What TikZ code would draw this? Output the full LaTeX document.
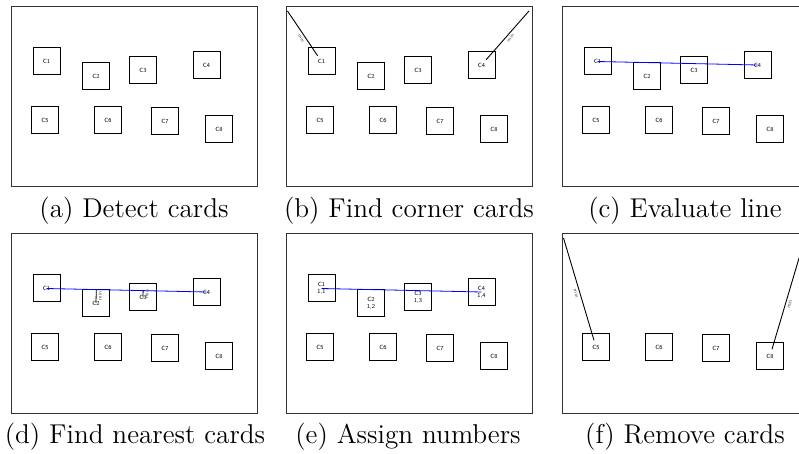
\documentclass[tikz,border=0pt]{standalone}
\usetikzlibrary{calc}
\tikzset{
  board/.style={draw=black!80, line width=0.5pt},
  card/.style={draw, line width=0.5pt, minimum size=13.5pt, inner sep=0pt,
    align=center, font=\fontsize{3}{3.4}\selectfont\sffamily},
  fitline/.style={blue, line width=0.4pt},
  cornerline/.style={line width=0.45pt, shorten >=3.5pt},
  minlabel/.style={font=\fontsize{2.6}{3}\selectfont\sffamily, black!70, sloped, inner sep=0.8pt},
  caption/.style={font=\fontsize{13.6}{16}\selectfont}
}
\begin{document}
\begin{tikzpicture}[x=0.5pt,y=-0.5pt]
  \useasboundingbox (0,0) rectangle (799,454);
  \clip (0,0) rectangle (799,454);
  % boards, each 246 x 180, with corner points for the min lines
  \foreach \p/\ox/\oy in {a/11/7, b/286/7, c/562/7, d/11/234, e/286/234, f/562/234}{
    \begin{scope}[shift={(\ox,\oy)}]
      \draw[board] (0,0) rectangle (246,180);
      \coordinate (\p-tl) at (1.5,4);
      \coordinate (\p-tr) at (243,4);
    \end{scope}
  }
  % all eight cards on (a)-(d)
  \foreach \p/\ox/\oy in {a/11/7, b/286/7, c/562/7, d/11/234}{
    \begin{scope}[shift={(\ox,\oy)}]
      \foreach \n/\cx/\cy in {1/35.5/54.5, 2/85/69, 3/132/63.5, 4/195.5/58,
                              5/34/113, 6/97/113, 7/154/114.5, 8/208/122}
        \node[card] (\p\n) at (\cx,\cy) {C\n};
    \end{scope}
  }
  % (e) numbered top row
  \begin{scope}[shift={(286,234)}]
    \foreach \n/\cx/\cy in {1/35.5/54.5, 2/85/69, 3/132/63.5, 4/195.5/58}
      \node[card] (e\n) at (\cx,\cy) {C\n\\1,\n};
    \foreach \n/\cx/\cy in {5/34/113, 6/97/113, 7/154/114.5, 8/208/122}
      \node[card] (e\n) at (\cx,\cy) {C\n};
  \end{scope}
  % (f) bottom row only
  \begin{scope}[shift={(562,234)}]
    \foreach \n/\cx/\cy in {5/34/113, 6/97/113, 7/154/114.5, 8/208/122}
      \node[card] (f\n) at (\cx,\cy) {C\n};
  \end{scope}

  % (b) corner cards
  \draw[cornerline] (b-tl) -- node[minlabel, pos=0.5, below] {min} (b1.center);
  \draw[cornerline, shorten >=0pt, shorten <=3.5pt] (b4.center) -- node[minlabel, pos=0.55, below] {min} (b-tr);
  % (c) line through C1 and C4
  \draw[fitline] (c1.center) -- (c4.center);
  % (d) nearest cards to the line
  \draw[fitline] (d1.center) -- (d4.center);
  \coordinate (d2p) at ($(d1.center)!(d2.center)!(d4.center)$);
  \coordinate (d3p) at ($(d1.center)!(d3.center)!(d4.center)$);
  \draw[line width=0.4pt] (d2.center) -- node[minlabel, pos=0.55, below] {min} (d2p);
  \draw[line width=0.4pt] (d3.center) -- node[minlabel, pos=0.5, below] {min} (d3p);
  % (e) numbers along the line
  \draw[fitline] (e1.center) -- (e4.center);
  % (f) next row corners
  \draw[cornerline] (f-tl) -- node[minlabel, pos=0.5, below] {min} (f5.center);
  \draw[cornerline, shorten >=0pt, shorten <=3.5pt] (f8.center) -- node[minlabel, pos=0.45, below] {min} (f-tr);

  % captions
  \node[caption] (cap-a) at (134,211) {(a) Detect cards};
  \node[caption] (cap-b) at (409,211) {(b) Find corner cards};
  \node[caption] (cap-c) at (685,211) {(c) Evaluate line};
  \node[caption] (cap-d) at (135,437) {(d) Find nearest cards};
  \node[caption] (cap-e) at (408,437) {(e) Assign numbers};
  \node[caption] (cap-f) at (685,437) {(f) Remove cards};
\end{tikzpicture}
\end{document}
